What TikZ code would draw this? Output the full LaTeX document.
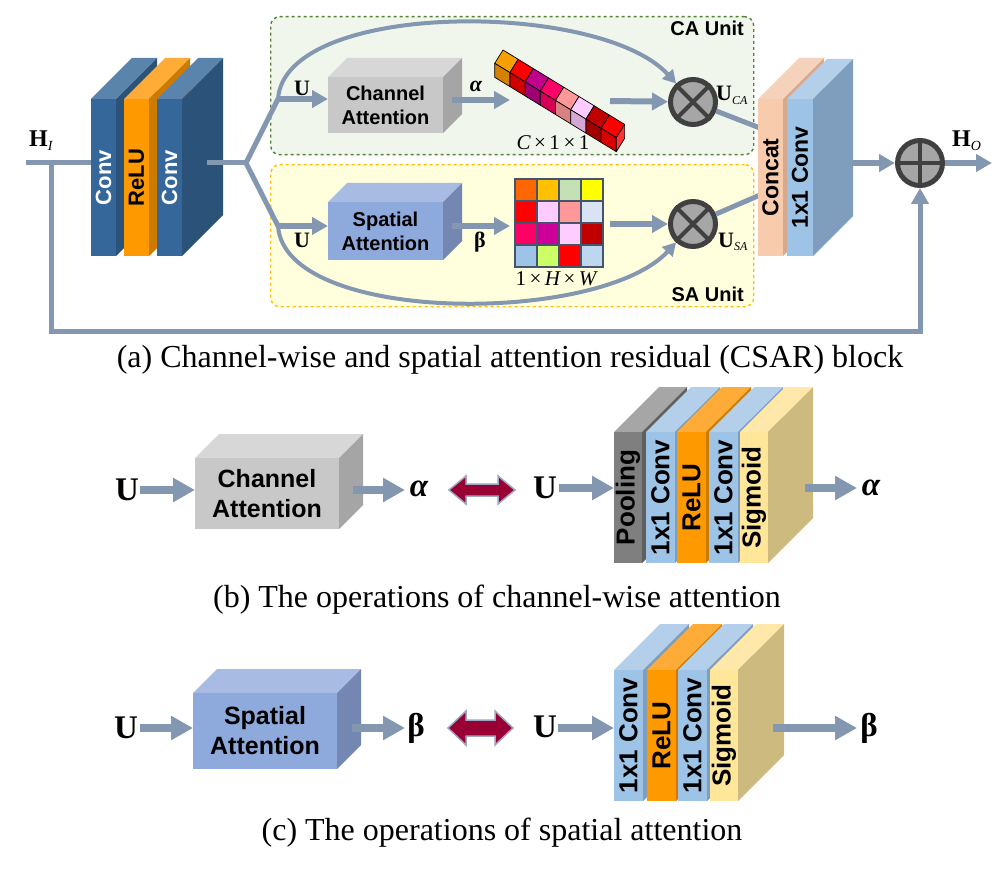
\documentclass[tikz,border=0pt]{standalone}
\usepackage{fontspec}
\setmainfont{Liberation Serif}
\newfontfamily\arialf{Liberation Sans}
\usetikzlibrary{arrows.meta,calc}
\definecolor{lgray}{HTML}{8497B0}
\definecolor{convf}{HTML}{35679A}\definecolor{convt}{HTML}{5B84AD}\definecolor{convs}{HTML}{2B5279}
\definecolor{reluf}{HTML}{FF9900}\definecolor{relut}{HTML}{FFAB37}\definecolor{relus}{HTML}{CC7A00}
\definecolor{caf}{HTML}{C8C8C8}\definecolor{cat}{HTML}{D7D7D7}\definecolor{cas}{HTML}{A5A5A5}
\definecolor{saf}{HTML}{8EA9DB}\definecolor{sat}{HTML}{A7BBE3}\definecolor{sas}{HTML}{7487B2}
\definecolor{ccf}{HTML}{F8CBAD}\definecolor{cct}{HTML}{F5D2BB}\definecolor{ccs}{HTML}{D7A98C}
\definecolor{c1f}{HTML}{9DC3E6}\definecolor{c1t}{HTML}{B3CFEA}\definecolor{c1s}{HTML}{7F9DBC}
\definecolor{poolf}{HTML}{7F7F7F}\definecolor{poolt}{HTML}{A6A6A6}\definecolor{pools}{HTML}{5F5F5F}
\definecolor{sigf}{HTML}{FFE699}\definecolor{sigt}{HTML}{FFE8A9}\definecolor{sigs}{HTML}{CDBA7E}
\definecolor{cagreen}{HTML}{548235}\definecolor{cafill}{HTML}{F1F6EC}
\definecolor{sayel}{HTML}{FFC000}\definecolor{safill}{HTML}{FFFFDE}
\definecolor{circf}{HTML}{A6A6A6}\definecolor{circd}{HTML}{404040}
\definecolor{dbfill}{HTML}{990033}\definecolor{dbdraw}{HTML}{9CA6C0}
\definecolor{gridb}{HTML}{44546A}
% cubes
\definecolor{t1}{HTML}{F5A000}\definecolor{f1}{HTML}{D48000}
\definecolor{t2}{HTML}{FF0000}\definecolor{f2}{HTML}{D00000}
\definecolor{t3}{HTML}{C0008C}\definecolor{f3}{HTML}{9E0074}
\definecolor{t4}{HTML}{FF0066}\definecolor{f4}{HTML}{D60056}
\definecolor{t5}{HTML}{FF9999}\definecolor{f5}{HTML}{D98080}
\definecolor{t6}{HTML}{FFCCFF}\definecolor{f6}{HTML}{D4A8D4}
\definecolor{t7}{HTML}{C00000}\definecolor{f7}{HTML}{A00000}
\definecolor{t8}{HTML}{FF0000}\definecolor{f8}{HTML}{D80000}
\definecolor{s8}{HTML}{FF3333}
% grid
\definecolor{g11}{HTML}{FF6600}\definecolor{g12}{HTML}{FFC000}\definecolor{g13}{HTML}{C5E0B4}\definecolor{g14}{HTML}{FFFF00}
\definecolor{g21}{HTML}{FF0000}\definecolor{g22}{HTML}{FFCCFF}\definecolor{g23}{HTML}{FF9999}\definecolor{g24}{HTML}{DAE3F3}
\definecolor{g31}{HTML}{FF0066}\definecolor{g32}{HTML}{CC0099}\definecolor{g33}{HTML}{FFCCFF}\definecolor{g34}{HTML}{C00000}
\definecolor{g41}{HTML}{9DC3E6}\definecolor{g42}{HTML}{CCFF66}\definecolor{g43}{HTML}{FF0000}\definecolor{g44}{HTML}{BDD7EE}

% #1 name #2 x #3 y(top row) #4 w #5 h #6 depth #7 front #8 top #9 side
\newcommand\slab[9]{%
 \fill[#8] (#2,#3) -- ++(#6,-#6) -- ++(#4,0) -- ++(-#6,#6) -- cycle;
 \fill[#9] ({#2+#4},#3) -- ++(#6,-#6) -- ++(0,#5) -- ++(-#6,#6) -- cycle;
 \node[fill=#7, inner sep=0pt, outer sep=0pt, minimum width=#4pt, minimum height=#5pt, anchor=north west] (#1) at (#2,#3) {};}
% name x1 x2 yc headhalf shafthalf headlen
\newcommand\dblarrow[7]{%
 \coordinate (#1) at ({(#2+#3)/2},#4);
 \filldraw[fill=dbfill, draw=dbdraw, line width=1.5pt, line join=miter]
 (#2,#4) -- ++(#7,-#5) -- ++(0,{#5-#6}) -- ({#3-#7},{#4-#6}) -- ++(0,{#6-#5}) -- (#3,#4)
 -- ({#3-#7},{#4+#5}) -- ++(0,{#6-#5}) -- ({#2+#7},{#4+#6}) -- ++(0,{#5-#6}) -- cycle;}

\begin{document}
\begin{tikzpicture}[x=1pt,y=-1pt,
 conn/.style={draw=lgray, line width=5pt},
 harrow/.style={draw=lgray, line width=6pt, -{Triangle[length=16pt,width=17pt]}},
 carrow/.style={draw=lgray, line width=4pt, -{Triangle[length=13pt,width=14pt]}},
 barrow/.style={draw=lgray, line width=8pt, -{Triangle[length=22pt,width=23pt]}},
 serifb/.style={font=\fontsize{22}{22}\selectfont\bfseries, inner sep=0pt},
 serifbig/.style={font=\fontsize{33}{33}\selectfont\bfseries, inner sep=0pt},
 capt/.style={font=\fontsize{32}{32}\selectfont, inner sep=0pt},
 stxt/.style={font=\arialf\bfseries\fontsize{22}{22}\selectfont, inner sep=0pt, rotate=90},
 btxt/.style={font=\arialf\bfseries\fontsize{26}{26}\selectfont, inner sep=0pt, rotate=90},
 boxtxt/.style={font=\arialf\bfseries\fontsize{20}{24}\selectfont, align=center, inner sep=0pt},
 bboxtxt/.style={font=\arialf\bfseries\fontsize{25}{30}\selectfont, align=center, inner sep=0pt},
 unitlbl/.style={font=\arialf\bfseries\fontsize{20}{20}\selectfont, inner sep=0pt},
 oper/.style={circle, draw=circd, fill=circf, line width=5pt, minimum size=45pt, inner sep=0pt},
 cross/.style={draw=circd, line width=4pt},
 cube/.style={draw=black, line width=0.7pt, line join=round}]
\useasboundingbox (0,0) rectangle (1006,869);
\fill[white] (0,0) rectangle (1006,869);

% ================= (a) =================
\node[draw=cagreen, fill=cafill, dashed, line width=1.4pt, rounded corners=9pt, minimum width=483pt, minimum height=138pt, anchor=north west, inner sep=0pt] (caunit) at (270,16) {};
\node[draw=sayel, fill=safill, dashed, line width=1.4pt, rounded corners=9pt, minimum width=483pt, minimum height=142pt, anchor=north west, inner sep=0pt] (saunit) at (270,164) {};
\node[unitlbl, anchor=east] (catxt) at (744,28) {CA Unit};
\node[unitlbl, anchor=east] (satxt) at (744,294) {SA Unit};

% operators
\node[oper] (otCA) at (693,102) {};
\draw[cross] (otCA.north west) -- (otCA.south east) (otCA.north east) -- (otCA.south west);
\node[oper] (otSA) at (693,224) {};
\draw[cross] (otSA.north west) -- (otSA.south east) (otSA.north east) -- (otSA.south west);
\node[oper] (opl) at (920,163) {};
\draw[cross] (opl.north) -- (opl.south) (opl.west) -- (opl.east);

% input and skip
\coordinate (in) at (26,163);
\coordinate (sk) at (51,163);
\coordinate (skb) at (51,331);
\node[serifb, anchor=base west, font=\fontsize{24}{24}\selectfont\bfseries] (HI) at (29,147) {H\raisebox{-0.3ex}{\fontsize{14}{14}\selectfont\mdseries\itshape I}};
\draw[conn] (in) -- (91,163);
\draw[conn, -{Triangle[length=16pt,width=17pt]}] (sk) -- (skb) -| (opl.south);

% conv stack
\slab{convA}{91}{99}{25}{157}{41}{convf}{convt}{convs}
\slab{reluA}{124}{99}{25}{157}{41}{reluf}{relut}{relus}
\slab{convB}{157}{99}{25}{157}{41}{convf}{convt}{convs}
\node[stxt, text=white] (convAt) at (convA.center) {Conv};
\node[stxt, text=black] (reluAt) at (reluA.center) {ReLU};
\node[stxt, text=white] (convBt) at (convB.center) {Conv};

% branches
\coordinate (co) at (207,163);
\coordinate (jn) at (246,163);
\coordinate (bt) at (278,99);
\coordinate (bb) at (278,226);
\draw[conn] (co) -- (jn);
\draw[conn, line join=round] (bt) -- (jn) -- (bb);
\draw[carrow] (bt) .. controls (285,0) and (600,0) .. (otCA);
\draw[carrow] (bb) .. controls (285,325) and (600,325) .. (otSA);

% CA / SA boxes
\slab{caB}{328}{77}{115}{56}{19}{caf}{cat}{cas}
\node[boxtxt] (caBt) at (caB.center) {Channel\\Attention};
\slab{saB}{328}{202}{115}{58}{19}{saf}{sat}{sas}
\node[boxtxt] (saBt) at (saB.center) {Spatial\\Attention};
\draw[harrow] (bt) -- (bt -| caB.west);
\draw[harrow] (bb) -- (bb -| saB.west);
\node[serifb] (u1) at (302,88) {U};
\node[serifb] (u2) at (302,240) {U};

% CA outputs
\coordinate (caout) at (452,100);
\coordinate (stripin) at (510,100);
\draw[harrow] (caout) -- (stripin);
\node[serifb] (alpha1) at (476,86) {\itshape α};
\coordinate (saout) at (452,226);
\coordinate (gridin) at (510,226);
\draw[harrow] (saout) -- (gridin);
\node[serifb] (beta1) at (480,242) {β};

% cube strip
\foreach \i in {1,...,8}{
 \pgfmathsetmacro\ax{494.7+(\i-1)*15.2}
 \pgfmathsetmacro\ay{63.3+(\i-1)*9.3}
 \filldraw[cube, fill=t\i] (\ax,\ay) -- ++(8.3,-13.3) -- ++(15.2,9.3) -- ++(-8.3,13.3) -- cycle;
 \filldraw[cube, fill=f\i] (\ax,\ay) -- ++(15.2,9.3) -- ++(0,14) -- ++(-15.2,-9.3) -- cycle;
}
\filldraw[cube, fill=s8] (616.3,137.7) -- ++(8.3,-13.3) -- ++(0,14) -- ++(-8.3,13.3) -- cycle;
\node[font=\fontsize{21}{21}\selectfont, inner sep=0pt] (cdim) at (553,143) {\itshape C\upshape\,×\,1\,×\,1};

% grid
\foreach \r in {1,...,4}{\foreach \c in {1,...,4}{
 \filldraw[fill=g\r\c, draw=gridb, line width=1.2pt] ({515+(\c-1)*22},{179+(\r-1)*22}) rectangle ++(22,22);}}
\node[font=\fontsize{21}{21}\selectfont, inner sep=0pt] (hwdim) at (556,279) {1\,×\,\itshape H\upshape\,×\,\itshape W};

\coordinate (stripout) at (610,101);
\coordinate (gridout) at (610,224);
\draw[harrow] (stripout) -- (otCA);
\draw[harrow] (gridout) -- (otSA);

% to concat
\coordinate (cc1) at (760,128);
\coordinate (cc2) at (760,195);
\draw[conn] (otCA) -- (cc1);
\draw[conn] (otSA) -- (cc2);
\node[serifb, anchor=base west] (uca) at (716,101) {U\raisebox{-0.35ex}{\fontsize{12}{12}\selectfont\mdseries\itshape CA}};
\node[serifb, anchor=base west] (usa) at (718,247) {U\raisebox{-0.35ex}{\fontsize{12}{12}\selectfont\mdseries\itshape SA}};

\slab{concat}{758}{99}{25}{157}{41}{ccf}{cct}{ccs}
\slab{convC}{787}{99}{26}{157}{40}{c1f}{c1t}{c1s}
\node[stxt, text=black, font=\arialf\bfseries\fontsize{23}{23}\selectfont] (concatt) at (concat.center) {Concat};
\node[stxt, text=black, font=\arialf\bfseries\fontsize{23}{23}\selectfont] (convCt) at (convC.center) {1x1 Conv};

\coordinate (blkout) at (852,163);
\coordinate (hout) at (992,163);
\draw[harrow] (blkout) -- (opl);
\draw[harrow] (opl) -- (hout);
\node[anchor=base west, font=\fontsize{24}{24}\selectfont\bfseries, inner sep=0pt] (HO) at (952,147) {H\raisebox{-0.3ex}{\fontsize{14}{14}\selectfont\mdseries\itshape O}};

\node[capt] (capa) at (510,360) {(a) Channel-wise and spatial attention residual (CSAR) block};

% ================= (b) =================
\node[serifbig] (ub1) at (127,490) {U};
\coordinate (ub1r) at (140,490);
\slab{cab}{195}{458}{144}{71}{24}{caf}{cat}{cas}
\node[bboxtxt] (cabt) at (cab.center) {Channel\\Attention};
\draw[barrow] (ub1r) -- (ub1r -| cab.west);
\coordinate (cabo) at (353,490);
\coordinate (alb1) at (405,490);
\draw[barrow] (cabo) -- (alb1);
\node[serifbig] (alpha2) at (419,489) {\itshape α};
\dblarrow{dbb}{449}{515}{490}{14}{6}{17}
\node[serifbig] (ub2) at (545,488) {U};
\coordinate (ub2r) at (559,488);
\slab{poolb}{614}{432}{28}{131}{45}{poolf}{poolt}{pools}
\slab{c1b}{646}{432}{29}{131}{45}{c1f}{c1t}{c1s}
\slab{relub}{677}{432}{29}{131}{45}{reluf}{relut}{relus}
\slab{c2b}{709}{432}{29}{131}{45}{c1f}{c1t}{c1s}
\slab{sigb}{740}{432}{28}{131}{45}{sigf}{sigt}{sigs}
\node[btxt] (poolbt) at (poolb.center) {Pooling};
\node[btxt] (c1bt) at (c1b.center) {1x1 Conv};
\node[btxt] (relubt) at (relub.center) {ReLU};
\node[btxt] (c2bt) at (c2b.center) {1x1 Conv};
\node[btxt] (sigbt) at (sigb.center) {Sigmoid};
\draw[barrow] (ub2r) -- (ub2r -| poolb.west);
\coordinate (sigbo) at (805,488);
\coordinate (alb2) at (857,488);
\draw[barrow] (sigbo) -- (alb2);
\node[serifbig] (alpha3) at (871,488) {\itshape α};
\node[capt] (capb) at (497,600) {(b) The operations of channel-wise attention};

% ================= (c) =================
\node[serifbig] (uc1) at (126,728) {U};
\coordinate (uc1r) at (140,728);
\slab{sac}{193}{693}{144}{76}{24}{saf}{sat}{sas}
\node[bboxtxt] (sact) at (sac.center) {Spatial\\Attention};
\draw[barrow] (uc1r) -- (uc1r -| sac.west);
\coordinate (saco) at (352,728);
\coordinate (btc1) at (405,728);
\draw[barrow] (saco) -- (btc1);
\node[serifbig] (beta2) at (416,728) {β};
\dblarrow{dbc}{448}{513}{728}{17}{8}{18}
\node[serifbig] (uc2) at (545,727) {U};
\coordinate (uc2r) at (558,728);
\slab{c1c}{614}{670}{29}{131}{46}{c1f}{c1t}{c1s}
\slab{reluc}{647}{670}{29}{131}{46}{reluf}{relut}{relus}
\slab{c2c}{678}{670}{29}{131}{46}{c1f}{c1t}{c1s}
\slab{sigc}{710}{670}{28}{131}{46}{sigf}{sigt}{sigs}
\node[btxt] (c1ct) at (c1c.center) {1x1 Conv};
\node[btxt] (reluct) at (reluc.center) {ReLU};
\node[btxt] (c2ct) at (c2c.center) {1x1 Conv};
\node[btxt] (sigct) at (sigc.center) {Sigmoid};
\draw[barrow] (uc2r) -- (uc2r -| c1c.west);
\coordinate (sigco) at (773,728);
\coordinate (btc2) at (857,728);
\draw[barrow] (sigco) -- (btc2);
\node[serifbig] (beta3) at (869,728) {β};
\node[capt] (capc) at (502,833) {(c) The operations of spatial attention};
\end{tikzpicture}
\end{document}
